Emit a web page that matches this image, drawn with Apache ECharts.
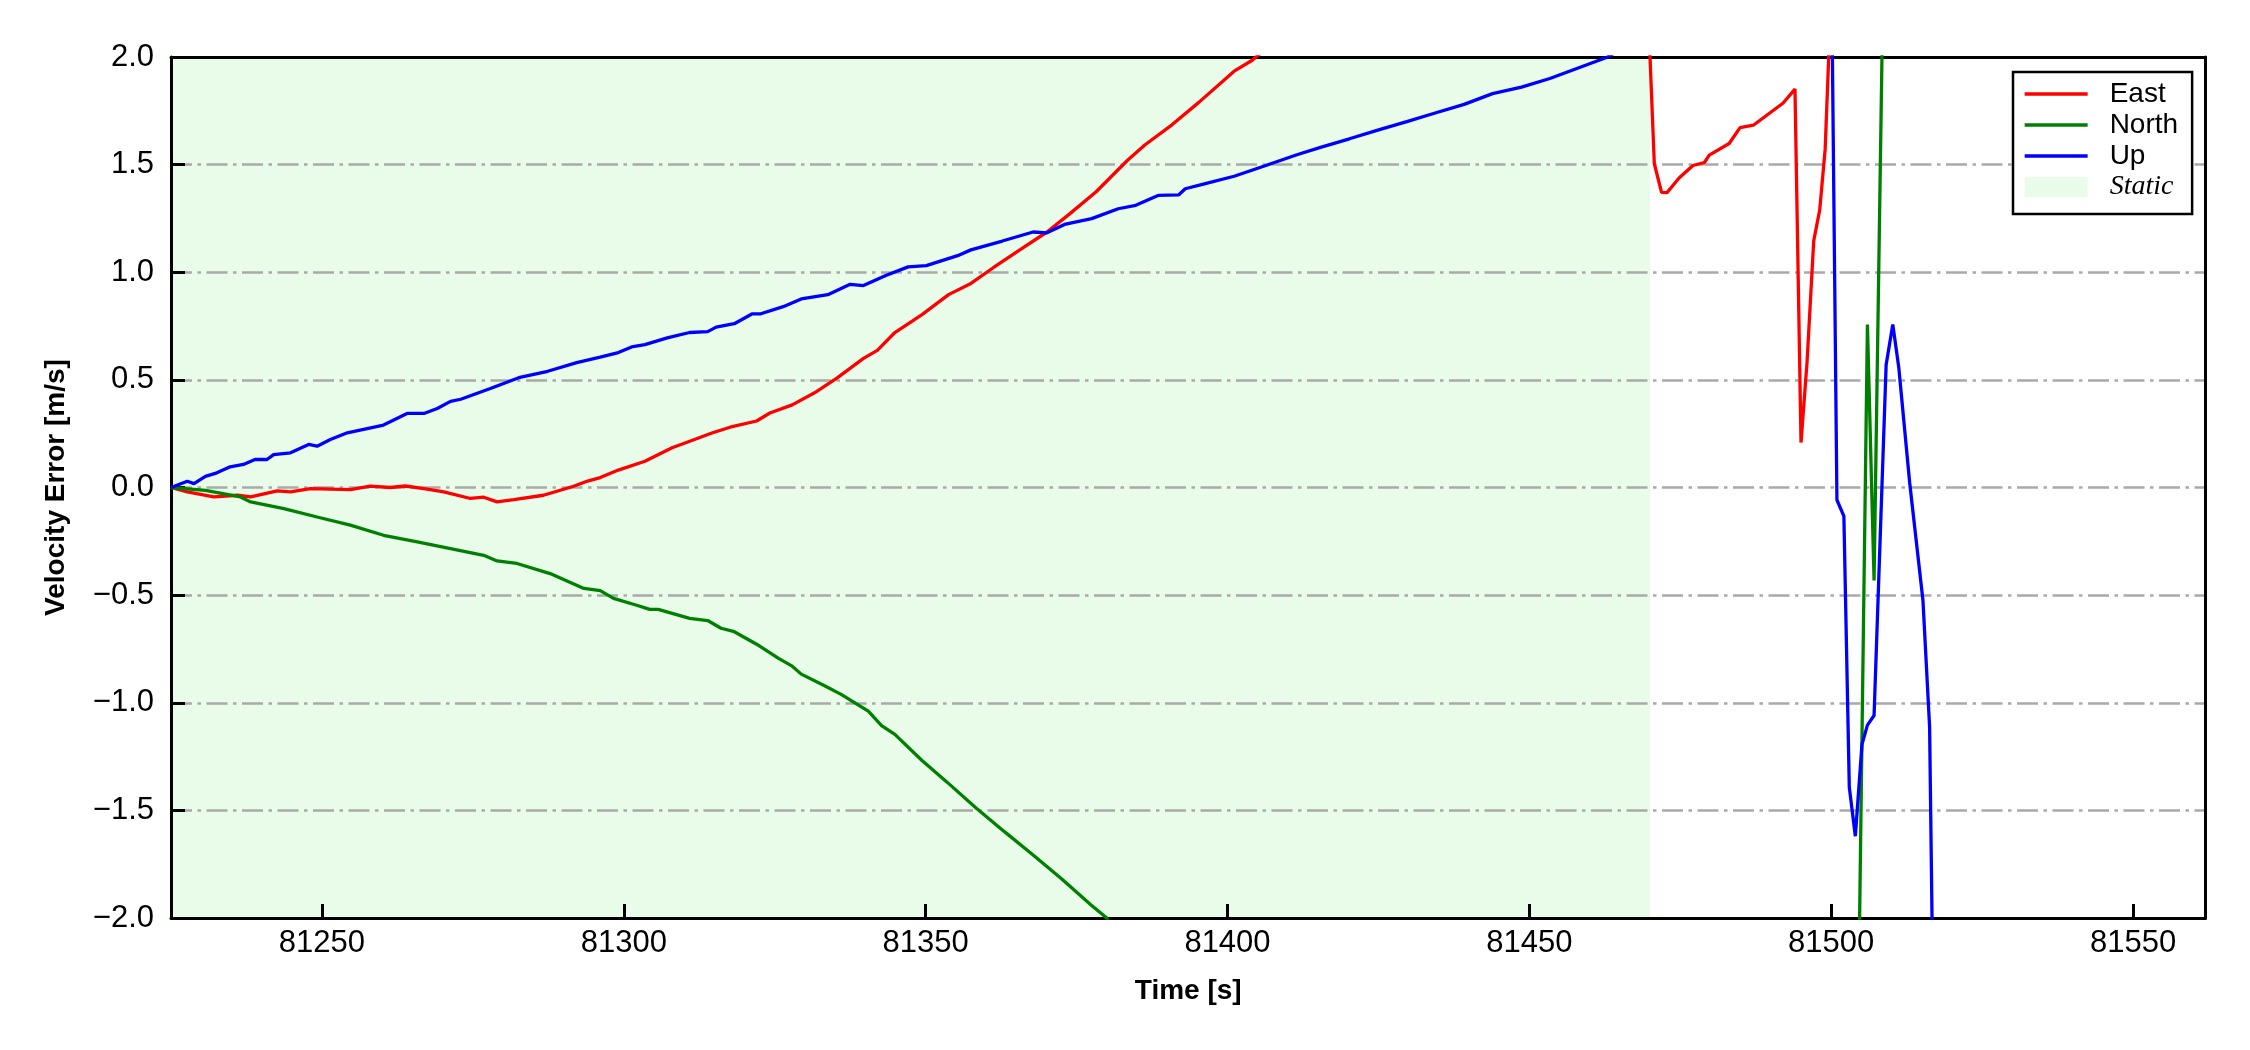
<!DOCTYPE html>
<html><head><meta charset="utf-8">
<script src="https://cdn.jsdelivr.net/npm/echarts@6/dist/echarts.min.js"></script>
<style>html,body{margin:0;padding:0;background:#fff}#c{width:2250px;height:1050px}</style>
</head><body><div id="c"></div><script>
// ---- data (time [s], velocity error [m/s]) ----
const xMin = 81225, xMax = 81562;
const xTicks = [81250, 81300, 81350, 81400, 81450, 81500, 81550];
const yTicks = [-2.0, -1.5, -1.0, -0.5, 0.0, 0.5, 1.0, 1.5, 2.0];
const staticStart = 81225, staticEnd = 81470;
const seriesNames = ['East', 'North', 'Up', 'Static'];

const east = [
 [81225,0],[81227.7,-0.02],[81232.1,-0.044],[81236,-0.036],[81238.2,-0.044],[81242.6,-0.016],[81244.8,-0.02],
 [81248.1,-0.005],[81254.7,-0.01],[81258,0.006],[81261.3,0],[81263.8,0.007],[81266.9,-0.005],[81270.2,-0.02],
 [81274.6,-0.051],[81276.8,-0.045],[81279,-0.067],[81281.8,-0.056],[81286.7,-0.036],[81291.7,0.006],[81294,0.03],
 [81296.1,0.046],[81299.1,0.081],[81303.5,0.122],[81308,0.185],[81311.6,0.222],[81314.6,0.253],[81317.6,0.28],
 [81322,0.309],[81324.2,0.346],[81327.9,0.384],[81331.6,0.44],[81335.3,0.508],[81339.7,0.60],[81342,0.637],
 [81344.9,0.72],[81349.4,0.803],[81353.8,0.896],[81357.5,0.948],[81361.2,1.021],[81365.6,1.104],[81370.1,1.187],
 [81373.8,1.27],[81378.2,1.373],[81383.4,1.519],[81386.3,1.591],[81390.8,1.685],[81395.2,1.788],[81401.1,1.934],
 [81404.1,1.985],[81406,2.03],[81440,2.6],[81469.7,2.2],
 [81470.7,1.504],[81471.9,1.371],[81472.8,1.37],[81474.8,1.438],[81477.1,1.496],[81479,1.51],[81479.8,1.544],
 [81483.1,1.598],[81484.9,1.672],[81487.1,1.683],[81492,1.785],[81494,1.851],[81495,0.209],[81496,0.583],
 [81497.1,1.145],[81498.1,1.29],[81499,1.572],[81500,2.3],[81530,3.0],[81562,3.2]
];

const north = [
 [81225,0],[81230.7,-0.013],[81236.5,-0.044],[81238.2,-0.067],[81243.7,-0.098],[81249.2,-0.137],[81254.7,-0.175],
 [81260.2,-0.222],[81265.8,-0.253],[81271.3,-0.284],[81276.8,-0.315],[81279,-0.341],[81282.3,-0.353],[81287.8,-0.40],
 [81293.4,-0.469],[81296.1,-0.479],[81298.3,-0.515],[81302,-0.546],[81304.3,-0.566],[81305.7,-0.566],[81310.9,-0.608],
 [81313.9,-0.618],[81316.1,-0.654],[81318.3,-0.67],[81322,-0.728],[81325.7,-0.795],[81327.9,-0.83],[81329.4,-0.867],
 [81333.1,-0.919],[81336,-0.961],[81340.5,-1.039],[81342.7,-1.106],[81344.9,-1.147],[81349.4,-1.268],[81353.6,-1.37],
 [81358.4,-1.49],[81363.1,-1.60],[81367.9,-1.71],[81372.6,-1.82],[81377.4,-1.94],[81380,-2.0],[81385,-2.3],
 [81504,-3.5],[81506,0.757],[81507.1,-0.432],[81509,3.1],[81562,3.5]
];

const up = [
 [81225,0],[81227.7,0.029],[81228.8,0.018],[81230.7,0.052],[81232.6,0.068],[81234.8,0.096],[81237,0.107],[81239,0.131],
 [81240.9,0.13],[81242,0.153],[81244.8,0.161],[81247.8,0.2],[81249.2,0.192],[81251.4,0.223],[81254.2,0.254],[81260.2,0.29],
 [81264.1,0.344],[81266.9,0.344],[81269.1,0.367],[81271.3,0.40],[81273,0.41],[81277.9,0.46],[81282.6,0.51],[81287.4,0.54],
 [81292.2,0.58],[81296.1,0.606],[81299.1,0.627],[81301.3,0.653],[81303.5,0.664],[81307.2,0.695],[81310.9,0.72],
 [81313.9,0.724],[81315.3,0.745],[81318.3,0.761],[81321.3,0.807],[81322.7,0.807],[81326.4,0.84],[81329.4,0.876],
 [81333.8,0.896],[81337.5,0.944],[81339.7,0.938],[81343.4,0.985],[81347.1,1.025],[81350.1,1.031],[81355.3,1.077],
 [81357.5,1.104],[81362.7,1.145],[81367.8,1.187],[81370.1,1.183],[81373,1.222],[81377.5,1.249],[81381.9,1.295],
 [81384.8,1.311],[81388.5,1.357],[81391.9,1.359],[81393,1.388],[81396,1.409],[81401.1,1.446],[81405.5,1.488],
 [81411.5,1.546],[81415.4,1.58],[81420.2,1.62],[81424.9,1.66],[81429.7,1.70],[81434.4,1.74],[81439.2,1.78],
 [81443.9,1.83],[81448.7,1.86],[81453.4,1.90],[81458.2,1.95],[81463,2.0],[81480,2.3],[81500,2.55],
 [81500.95,-0.058],[81502.1,-0.133],[81503,-1.393],[81504,-1.62],[81505.1,-1.193],[81506,-1.104],[81507.1,-1.059],
 [81509.1,0.57],[81510.2,0.757],[81511.2,0.556],[81513,0.022],[81515.2,-0.525],[81516.3,-1.113],[81517,-2.65],[81562,-3.0]
];

// ---- styling ----
const FONT = '"Liberation Sans", Arial, Helvetica, sans-serif';
const SERIF = '"Liberation Serif", "Times New Roman", serif';
const colors = {East:'#ff0000', North:'#008000', Up:'#0000ff', Static:'#e9fce9'};
const LW = 3.3;
const fmtY = v => (v < 0 ? '\u2212' : '') + Math.abs(v).toFixed(1);

const chart = echarts.init(document.getElementById('c'), null, {renderer:'canvas'});
const lineSeries = (name, data) => ({
  name, type:'line', data, symbol:'none', showSymbol:false, clip:true, z:5,
  lineStyle:{color:colors[name], width:LW}, itemStyle:{color:colors[name]}
});
const frameAxis = {axisLine:{show:true, onZero:false, lineStyle:{color:'#000', width:3}},
  axisTick:{show:false}, axisLabel:{show:false}, splitLine:{show:false}, z:3};
const hiddenSymbol = {color:'rgba(0,0,0,0)', borderWidth:0, opacity:0};

chart.setOption({
  animation:false,
  backgroundColor:'#fff',
  grid:{left:171, right:44.5, top:57, bottom:132, containLabel:false},
  xAxis:[{
    type:'value', min:xMin, max:xMax, position:'bottom', z:3,
    axisLine:{show:true, onZero:false, lineStyle:{color:'#000', width:3}},
    axisTick:{show:true, inside:true, length:14, customValues:xTicks, lineStyle:{color:'#000', width:3}},
    axisLabel:{customValues:xTicks, formatter:v => String(v), fontFamily:FONT, fontSize:31, color:'#000', margin:10},
    splitLine:{show:false},
    name:'Time [s]', nameLocation:'middle', nameGap:59,
    nameTextStyle:{fontFamily:FONT, fontWeight:'bold', fontSize:28, color:'#000'}
  }, Object.assign({type:'value', min:xMin, max:xMax, position:'top'}, frameAxis)],
  yAxis:[{
    type:'value', min:yTicks[0], max:yTicks[yTicks.length-1], interval:0.5, position:'left', z:3,
    axisLine:{show:true, onZero:false, lineStyle:{color:'#000', width:3}},
    axisTick:{show:true, inside:true, length:14, lineStyle:{color:'#000', width:3}},
    axisLabel:{formatter:fmtY, fontFamily:FONT, fontSize:31, color:'#000', margin:17},
    splitLine:{show:true, lineStyle:{color:'#a9a9a9', width:2.6, type:[21,5.5,3.5,5.5]}},
    name:'Velocity Error [m/s]', nameLocation:'middle', nameGap:101, nameRotate:90,
    nameTextStyle:{fontFamily:FONT, fontWeight:'bold', fontSize:28, color:'#000'}
  }, Object.assign({type:'value', min:-2, max:2, position:'right'}, frameAxis)],
  legend:{
    orient:'vertical', left:2013, top:72, selectedMode:false, z:10,
    padding:[8,14,13,10], itemGap:3, itemWidth:63, itemHeight:20,
    borderColor:'#000', borderWidth:2.5, borderRadius:0, backgroundColor:'#fff',
    lineStyle:{width:LW},
    textStyle:{fontFamily:FONT, fontSize:28, color:'#000', lineHeight:28, padding:[0,0,0,17]},
    data:[
      {name:seriesNames[0], itemStyle:hiddenSymbol},
      {name:seriesNames[1], itemStyle:hiddenSymbol},
      {name:seriesNames[2], itemStyle:hiddenSymbol},
      {name:seriesNames[3], icon:'rect', itemStyle:{color:colors.Static, borderWidth:0},
       textStyle:{fontFamily:SERIF, fontStyle:'italic', fontSize:28}}
    ]
  },
  series:[
    {name:'Static', type:'line', data:[], z:0, itemStyle:{color:colors.Static}, lineStyle:{color:colors.Static},
     markArea:{silent:true, z:0, itemStyle:{color:colors.Static, opacity:1},
       data:[[{xAxis:staticStart},{xAxis:staticEnd}]]}},
    lineSeries('East', east),
    lineSeries('North', north),
    lineSeries('Up', up)
  ]
});
</script></body></html>
